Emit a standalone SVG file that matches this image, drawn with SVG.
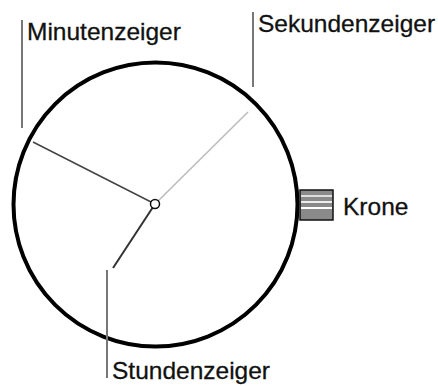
<svg xmlns="http://www.w3.org/2000/svg" width="438" height="386" viewBox="0 0 438 386">
<style>
.lbl{font-family:"Liberation Sans",Arial,sans-serif;font-size:24.5px;fill:#111;stroke:#111;stroke-width:0.3}
.lead{stroke:#777;stroke-width:2;fill:none}
</style>
<rect width="438" height="386" fill="#fff"/>
<g id="dial">
<circle cx="155.5" cy="204.5" r="142" fill="none" stroke="#000" stroke-width="4"/>
</g>
<g id="crown">
<rect x="300" y="190" width="33" height="30" fill="#8a8a8a" stroke="#111" stroke-width="1.5"/>
<line x1="301" y1="196" x2="332" y2="196" stroke="#ddd" stroke-width="2"/>
<line x1="301" y1="202" x2="332" y2="202" stroke="#eee" stroke-width="2"/>
<line x1="301" y1="208" x2="332" y2="208" stroke="#fff" stroke-width="2"/>
<text class="lbl" x="343" y="215">Krone</text>
</g>
<g id="connectors">
<line x1="155" y1="204" x2="33" y2="142" stroke="#444" stroke-width="1.5"/>
<line x1="155" y1="204" x2="248" y2="112" stroke="#bbb" stroke-width="1.5"/>
<line x1="155" y1="204" x2="113" y2="268" stroke="#333" stroke-width="2"/>
<line class="lead" x1="22" y1="20" x2="22" y2="128"/>
<line class="lead" x1="253" y1="12" x2="253" y2="87"/>
<line class="lead" x1="107" y1="270" x2="107" y2="378"/>
</g>
<g id="center">
<circle cx="155" cy="204" r="4.5" fill="#fff" stroke="#111" stroke-width="1.5"/>
</g>
<g id="minute-label"><text class="lbl" x="27" y="40">Minutenzeiger</text></g>
<g id="second-label"><text class="lbl" x="258" y="32">Sekundenzeiger</text></g>
<g id="hour-label"><text class="lbl" x="112" y="379">Stundenzeiger</text></g>
</svg>
